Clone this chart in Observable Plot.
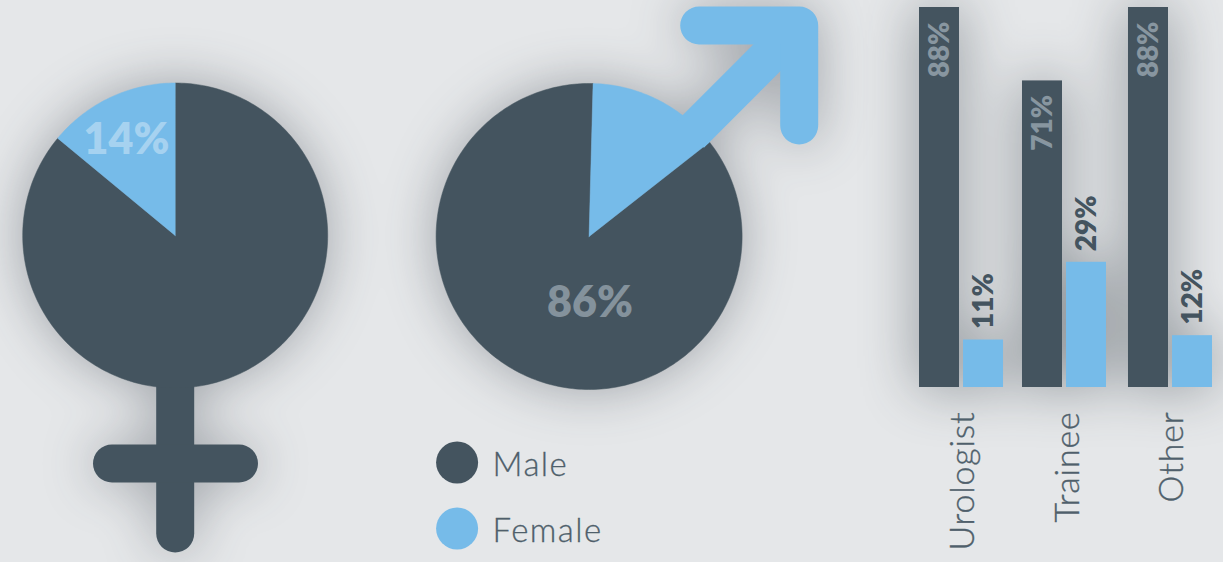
<!DOCTYPE html>
<html><head><meta charset="utf-8">
<script src="https://cdn.jsdelivr.net/npm/d3@7"></script>
<script src="https://cdn.jsdelivr.net/npm/@observablehq/plot@0.6"></script>
<style>
html,body{margin:0;padding:0;background:#e5e7e9;overflow:hidden}
#c{position:relative;width:1223px;height:562px;background:#e5e7e9}
#c svg{position:absolute;left:0;top:0;background:transparent}
.shadow{filter:drop-shadow(0 0 26px rgba(35,45,55,.36))}
.shadowB{filter:drop-shadow(0 0 28px rgba(35,45,55,.46))}
.tracked text{letter-spacing:.8px;stroke:#4f5f6b;stroke-width:.35px}
.tracked2 text{letter-spacing:1.4px;stroke:#4f5f6b;stroke-width:.3px}
</style></head><body><div id="c"></div>
<script>
const DARK="#44545f", BLUE="#76bbe9", INK="#4f5f6b";
// Pie values
const femalePie=[{gender:"Male",share:86},{gender:"Female",share:14}];
const malePie=[{gender:"Male",share:86},{gender:"Female",share:14}];
// Bars
const roles=["Urologist","Trainee","Other"];
const maleByRole=[88,71,88];
const femaleByRole=[11,29,12];
const legendItems=["Male","Female"];

const W=1223,H=562;
const frame={width:W,height:H,margin:0,axis:null,style:{background:"transparent"},
  x:{domain:[0,W],range:[0,W],axis:null},y:{domain:[0,H],range:[0,H],axis:null}};
const color=g=>g==="Male"?DARK:BLUE;

// slice outline from a share, in degrees clockwise from north
function wedge(cx,cy,r,from,share){
  const a0=from*Math.PI/180,a1=a0+share/100*2*Math.PI,n=Math.ceil(share*3);
  const pts=[{x:cx,y:cy}];
  for(let i=0;i<=n;i++){const a=a0+(a1-a0)*i/n;pts.push({x:cx+r*Math.sin(a),y:cy-r*Math.cos(a)});}
  pts.push({x:cx,y:cy});
  return pts;
}
const strokeLine=(pts,col,w,cap="round")=>Plot.line(pts,{x:"x",y:"y",stroke:col,strokeWidth:w,strokeLinecap:cap,strokeLinejoin:"round"});
const fillWedge=(pts,col)=>Plot.line(pts,{x:"x",y:"y",fill:col,stroke:col,strokeWidth:.5,curve:"linear"});

const c=document.getElementById("c");

// Layer 1: pictograms, casting one shared shadow
const fc={x:174.7,y:235,r:152.5}, mc={x:588.6,y:236,r:153};
const pict=Plot.plot({...frame,marks:[
  strokeLine([{x:174.7,y:380},{x:174.7,y:533}],DARK,38),
  strokeLine([{x:111.5,y:463},{x:238.5,y:463}],DARK,38),
  fillWedge(wedge(fc.x,fc.y,fc.r,0,femalePie[0].share),color("Male")),
  fillWedge(wedge(fc.x,fc.y,fc.r,-femalePie[1].share*3.6,femalePie[1].share),color("Female")),
  fillWedge(wedge(mc.x,mc.y,mc.r,1.5+malePie[1].share*3.6,malePie[0].share),color("Male")),
  fillWedge(wedge(mc.x,mc.y,mc.r,1.5,malePie[1].share),color("Female")),
  strokeLine([{x:798.7,y:25},{x:690,y:133.7}],BLUE,38,"butt"),
  strokeLine([{x:698.7,y:25},{x:798.7,y:25},{x:798.7,y:125}],BLUE,38)
]});
pict.classList.add("shadow");
c.append(pict);

// Layer 2: grouped bars (shadowed) and their labels (not shadowed), on the same scales
const barRows=roles.flatMap((r,i)=>[
  {role:r,gender:"Male",value:maleByRole[i]},
  {role:r,gender:"Female",value:femaleByRole[i]}]);
const barFrame={width:W,height:H,marginLeft:919,marginRight:11,marginTop:7,marginBottom:175,
  style:{background:"transparent"},
  fx:{domain:roles,paddingInner:0.196,paddingOuter:0,label:null,axis:null,round:false},
  x:{domain:["Male","Female"],paddingInner:0.0909,paddingOuter:0,axis:null,round:false},
  y:{domain:[0,88],axis:null}};
const nudge=r=>r==="Trainee"?-1.5:0;
const bars=Plot.plot({...barFrame,marks:roles.map(r=>
  Plot.barY(barRows.filter(d=>d.role===r),{fx:"role",x:"gender",y:"value",fill:d=>color(d.gender),dx:nudge(r)}))});
bars.classList.add("shadowB");
c.append(bars);
const barText=Plot.plot({...barFrame,marks:[
  ...roles.flatMap(r=>[
  Plot.text(barRows.filter(d=>d.role===r&&d.gender==="Male"),{fx:"role",x:"gender",y:"value",text:d=>d.value+"%",rotate:-90,textAnchor:"end",dy:14,dx:nudge(r),
    fontFamily:"Lato",fontWeight:800,fontSize:28,fill:"#8896a0"}),
  Plot.text(barRows.filter(d=>d.role===r&&d.gender==="Female"),{fx:"role",x:"gender",y:"value",text:d=>d.value+"%",rotate:-90,textAnchor:"start",dy:-11,dx:nudge(r)+2,
    fontFamily:"Lato",fontWeight:800,fontSize:28,fill:DARK})]),
  Plot.axisFx({anchor:"bottom",tickSize:0,tickPadding:0,tickRotate:-90,dy:24,dx:2,label:null,fontFamily:"Lato",fontWeight:300,fontSize:34,fill:INK,className:"tracked"})
]});
c.append(barText);

// Layer 3: pie labels and legend
const legendRows=legendItems.map((g,i)=>({g,x:456.6,y:462+i*66}));
const notes=Plot.plot({...frame,marks:[
  Plot.text([femalePie[1].share+"%"],{x:()=>126,y:()=>140,text:d=>d,fontFamily:"Lato",fontWeight:800,fontSize:43,fill:"#a6d2f0"}),
  Plot.text([malePie[0].share+"%"],{x:()=>589.5,y:()=>303,text:d=>d,fontFamily:"Lato",fontWeight:800,fontSize:43,fill:"#84929c"}),
  Plot.dot(legendRows,{x:"x",y:"y",r:21,fill:d=>color(d.g)}),
  Plot.text(legendRows,{x:d=>d.x+35.5,y:"y",text:"g",textAnchor:"start",fontFamily:"Lato",fontWeight:300,fontSize:33,fill:INK,dy:3,className:"tracked2"})
]});
c.append(notes);
</script></body></html>
